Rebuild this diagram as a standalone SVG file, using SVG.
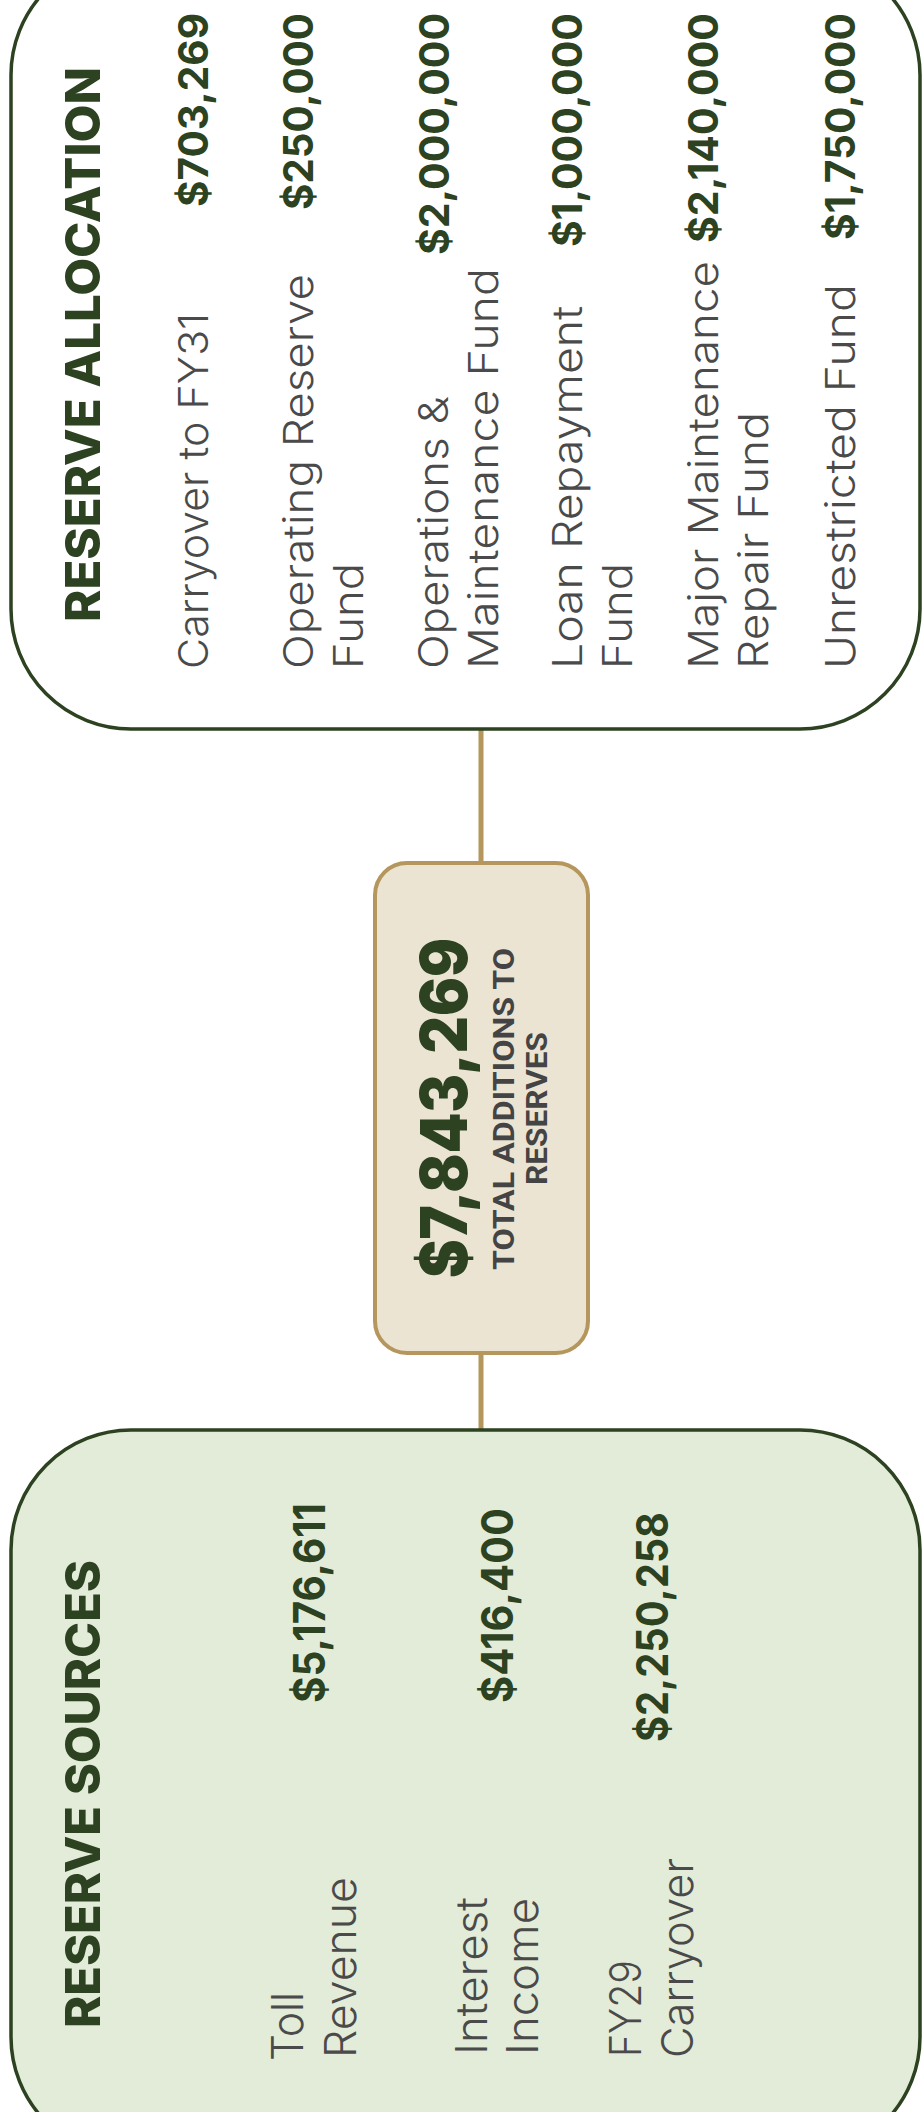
<svg xmlns="http://www.w3.org/2000/svg" width="923" height="2112" viewBox="0 0 923 2112">
  <style>
    .panel { stroke: #2c4220; stroke-width: 3.5; }
    .panel-out { fill: #ffffff; }
    .panel-in { fill: #e3ecd8; }
    .total-box { fill: #ebe4d3; stroke: #b5965c; stroke-width: 4; }
    .link { stroke: #b5965c; stroke-width: 5; fill: none; }
    .head { font-family: "Inter", "Noto Sans", "DejaVu Sans", sans-serif; font-weight: 800; font-size: 48px; fill: #2c4220; }
    .label { font-family: "Inter", "Noto Sans", "DejaVu Sans", sans-serif; font-weight: 300; font-size: 41px; fill: #4a4a4a; }
    .label-lg { font-size: 43px; }
    .value { font-family: "Inter", "Noto Sans", "DejaVu Sans", sans-serif; font-weight: 700; font-size: 41px; fill: #2c4220; }
    .value-lg { font-size: 44px; }
    .big { font-family: "Inter", "Noto Sans", "DejaVu Sans", sans-serif; font-weight: 900; font-size: 64px; fill: #2c4220; }
    .sub { font-family: "Roboto", "Liberation Sans", sans-serif; font-weight: 700; font-size: 29px; fill: #444444; }
  </style>

  <!-- whole layout is drawn left-to-right and turned a quarter turn counter-clockwise -->
  <g transform="translate(0,2112) rotate(-90)">

    <g id="connectors">
      <line class="link" x1="682" y1="481" x2="759" y2="481"/>
      <line class="link" x1="1249" y1="481" x2="1383" y2="481"/>
    </g>

    <g id="reserve-sources">
      <rect class="panel panel-in" x="-45" y="11" width="727" height="909" rx="120" ry="120"/>
      <text class="head" x="84" y="100" textLength="468" lengthAdjust="spacingAndGlyphs">RESERVE SOURCES</text>
      <text class="label label-lg" x="51" y="303" textLength="69" lengthAdjust="spacingAndGlyphs">Toll</text>
      <text class="label label-lg" x="54" y="356" textLength="181" lengthAdjust="spacingAndGlyphs">Revenue</text>
      <text class="label label-lg" x="57" y="487" textLength="158" lengthAdjust="spacingAndGlyphs">Interest</text>
      <text class="label label-lg" x="57" y="538" textLength="157" lengthAdjust="spacingAndGlyphs">Income</text>
      <text class="label label-lg" x="55" y="641" textLength="97" lengthAdjust="spacingAndGlyphs">FY29</text>
      <text class="label label-lg" x="54" y="693" textLength="200" lengthAdjust="spacingAndGlyphs">Carryover</text>
      <text class="value value-lg" x="409" y="325" textLength="200" lengthAdjust="spacingAndGlyphs">$5,176,611</text>
      <text class="value value-lg" x="409" y="513" textLength="195" lengthAdjust="spacingAndGlyphs">$416,400</text>
      <text class="value value-lg" x="370" y="668" textLength="230" lengthAdjust="spacingAndGlyphs">$2,250,258</text>
    </g>

    <g id="total-additions">
      <rect class="total-box" x="759" y="375" width="490" height="213" rx="32" ry="32"/>
      <text class="big" x="834" y="467" textLength="340" lengthAdjust="spacingAndGlyphs">$7,843,269</text>
      <text class="sub" x="842" y="514" textLength="322" lengthAdjust="spacingAndGlyphs">TOTAL ADDITIONS TO</text>
      <text class="sub" x="927" y="547" textLength="153" lengthAdjust="spacingAndGlyphs">RESERVES</text>
    </g>

    <g id="reserve-allocation">
      <rect class="panel panel-out" x="1383" y="11" width="774" height="909" rx="120" ry="120"/>
      <text class="head" x="1490" y="100" textLength="555" lengthAdjust="spacingAndGlyphs">RESERVE ALLOCATION</text>

      <text class="label" x="1443" y="208" textLength="356" lengthAdjust="spacingAndGlyphs">Carryover to FY31</text>
      <text class="label" x="1443" y="313" textLength="395" lengthAdjust="spacingAndGlyphs">Operating Reserve</text>
      <text class="label" x="1443" y="363" textLength="106" lengthAdjust="spacingAndGlyphs">Fund</text>
      <text class="label" x="1443" y="448" textLength="273" lengthAdjust="spacingAndGlyphs">Operations &amp;</text>
      <text class="label" x="1443" y="498" textLength="401" lengthAdjust="spacingAndGlyphs">Maintenance Fund</text>
      <text class="label" x="1443" y="582" textLength="363" lengthAdjust="spacingAndGlyphs">Loan Repayment</text>
      <text class="label" x="1443" y="632" textLength="106" lengthAdjust="spacingAndGlyphs">Fund</text>
      <text class="label" x="1443" y="718" textLength="408" lengthAdjust="spacingAndGlyphs">Major Maintenance</text>
      <text class="label" x="1443" y="768" textLength="257" lengthAdjust="spacingAndGlyphs">Repair Fund</text>
      <text class="label" x="1443" y="855" textLength="385" lengthAdjust="spacingAndGlyphs">Unrestricted Fund</text>

      <text class="value" x="1905" y="208" textLength="194" lengthAdjust="spacingAndGlyphs">$703,269</text>
      <text class="value" x="1902" y="313" textLength="197" lengthAdjust="spacingAndGlyphs">$250,000</text>
      <text class="value" x="1857" y="449" textLength="242" lengthAdjust="spacingAndGlyphs">$2,000,000</text>
      <text class="value" x="1865" y="582" textLength="234" lengthAdjust="spacingAndGlyphs">$1,000,000</text>
      <text class="value" x="1869" y="718" textLength="230" lengthAdjust="spacingAndGlyphs">$2,140,000</text>
      <text class="value" x="1872" y="855" textLength="227" lengthAdjust="spacingAndGlyphs">$1,750,000</text>
    </g>
  </g>
</svg>
